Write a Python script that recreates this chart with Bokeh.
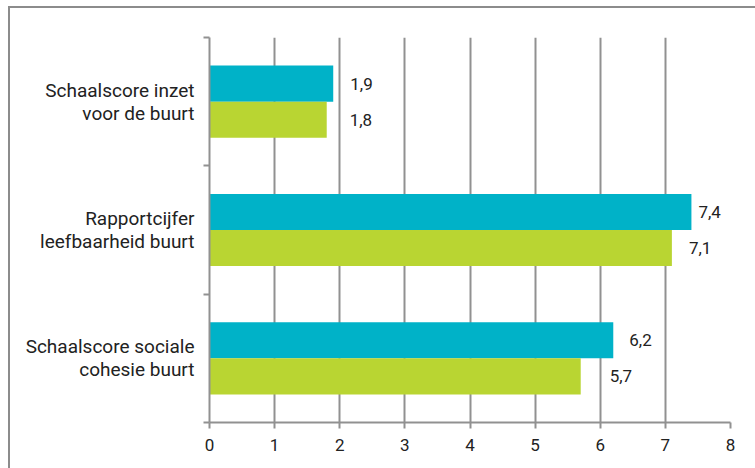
from bokeh.plotting import figure
from bokeh.models import ColumnDataSource, FixedTicker, LabelSet, LinearAxis
from bokeh.core.properties import value
from bokeh.embed import file_html
from bokeh.resources import INLINE

# ---- data ----
categories = ["Schaalscore sociale\ncohesie buurt",
              "Rapportcijfer\nleefbaarheid buurt",
              "Schaalscore inzet\nvoor de buurt"]
serie_1 = [6.2, 7.4, 1.9]   # teal (upper bar)
serie_2 = [5.7, 7.1, 1.8]   # green (lower bar)
x_ticks = [0, 1, 2, 3, 4, 5, 6, 7, 8]

# label styling: extra pixel gaps after bar ends
gap_1 = [16, 7, 17]
gap_2 = [29, 17, 23]

TEAL = "#00b2c8"
GREEN = "#b9d532"
GRID = "#919191"
FONT = "Roboto"
TXT = "#222222"

bar_h = 0.281
pos = [i + 0.5 for i in range(len(categories))]
bounds = [float(i) for i in range(len(categories) + 1)]

src1 = ColumnDataSource(dict(y=[p + bar_h / 2 for p in pos], right=serie_1,
                             lab=[f"{v:.1f}".replace(".", ",") for v in serie_1], gap=gap_1))
src2 = ColumnDataSource(dict(y=[p - bar_h / 2 for p in pos], right=serie_2,
                             lab=[f"{v:.1f}".replace(".", ",") for v in serie_2], gap=gap_2))

p = figure(frame_width=521, frame_height=385, width=745, height=460,
           x_range=(0, 8), y_range=(0, 3),
           min_border_left=199, min_border_top=29, min_border_right=25, min_border_bottom=46,
           toolbar_location=None, output_backend="svg",
           styles={"margin-left": "8px", "margin-top": "6px",
                   "border-left": "2px solid #8c8c8c", "border-top": "2px solid #8c8c8c"})
p.outline_line_color = None
p.background_fill_color = "white"
p.border_fill_color = "white"

p.hbar(y="y", right="right", left=0, height=bar_h, source=src1, color=TEAL, line_color=None)
p.hbar(y="y", right="right", left=0, height=bar_h, source=src2, color=GREEN, line_color=None)

for src in (src1, src2):
    ls = LabelSet(x="right", y="y", text="lab", source=src, x_offset="gap",
                  text_font=value(FONT), text_font_size=value("17px"), text_color=TXT,
                  text_baseline="middle", text_align="left")
    p.add_layout(ls)

# x axis
p.xaxis.ticker = FixedTicker(ticks=x_ticks)
p.xaxis.axis_line_color = GRID
p.xaxis.axis_line_width = 2
p.xaxis.major_tick_line_color = GRID
p.xaxis.major_tick_line_width = 2
p.xaxis.major_tick_out = 6
p.xaxis.major_tick_in = 0
p.xaxis.minor_tick_line_color = None
p.xaxis.major_label_text_font = FONT
p.xaxis.major_label_text_font_size = "17px"
p.xaxis.major_label_text_color = TXT
p.xaxis.major_label_standoff = 10

# y axis (ticks only at category boundaries)
p.yaxis.ticker = FixedTicker(ticks=bounds)
p.yaxis.axis_line_color = GRID
p.yaxis.axis_line_width = 2
p.yaxis.major_tick_line_color = GRID
p.yaxis.major_tick_line_width = 2
p.yaxis.major_tick_out = 6
p.yaxis.major_tick_in = 0
p.yaxis.minor_tick_line_color = None
p.yaxis.major_label_standoff = 0
p.yaxis.major_label_overrides = {b: "" for b in bounds}

# category label axis
cat_axis = LinearAxis(ticker=FixedTicker(ticks=pos),
                      major_label_overrides={pp: c for pp, c in zip(pos, categories)},
                      axis_line_color=None, major_tick_line_color=None,
                      minor_tick_line_color=None, major_tick_out=0, major_tick_in=0,
                      major_label_standoff=9,
                      major_label_text_font=FONT, major_label_text_font_size="19px",
                      major_label_text_color=TXT, major_label_text_align="center",
                      major_label_text_line_height=1.0)
p.add_layout(cat_axis, "left")

p.xgrid.grid_line_color = GRID
p.xgrid.grid_line_width = 2
p.ygrid.grid_line_color = None

open("out.html", "w").write(file_html(p, INLINE))
